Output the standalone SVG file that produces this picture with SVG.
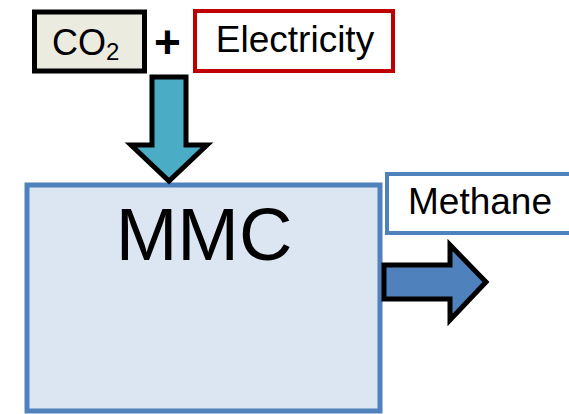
<svg xmlns="http://www.w3.org/2000/svg" width="569" height="414" viewBox="0 0 569 414">
<style>
text { font-family: "Liberation Sans", Arial, sans-serif; fill: #000; }
.arrow { stroke: #000; stroke-width: 5; stroke-linejoin: miter; }
</style>
<rect width="569" height="414" fill="#fff"/>
<g id="mmc">
<rect x="27" y="185" width="353" height="226" fill="#DCE6F2" stroke="#4F81BD" stroke-width="5"/>
<text x="204" y="260" font-size="74" text-anchor="middle">MMC</text>
</g>
<g id="co2">
<rect x="34.5" y="12" width="110" height="59" fill="#ECEBE0" stroke="#000" stroke-width="5"/>
<text x="52" y="55" font-size="36">CO<tspan font-size="24" dy="5">2</tspan></text>
</g>
<g id="plus">
<text x="167.5" y="58" font-size="46" font-weight="bold" text-anchor="middle">+</text>
</g>
<g id="electricity">
<rect x="195" y="11" width="198" height="60" fill="#fff" stroke="#C00000" stroke-width="4"/>
<text x="295" y="52" font-size="37" text-anchor="middle">Electricity</text>
</g>
<g id="methane">
<rect x="387" y="174" width="190" height="59" fill="#fff" stroke="#4F81BD" stroke-width="4"/>
<text x="480" y="214" font-size="37" text-anchor="middle">Methane</text>
</g>
<g id="connectors">
<polygon class="arrow" fill="#4BACC6" points="152,77 186,77 186,145 207,145 169,181 131,145 152,145"/>
<polygon class="arrow" fill="#4F81BD" points="384,265 450,265 450,245 486,282 450,320 450,299 384,299"/>
</g>
</svg>
